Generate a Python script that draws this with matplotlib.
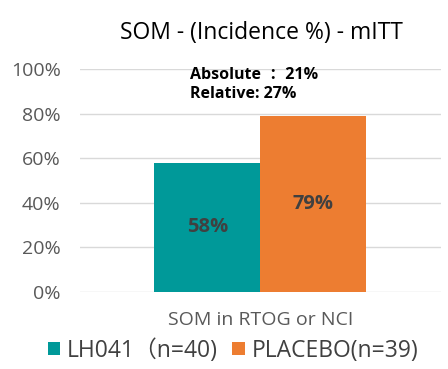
import matplotlib
matplotlib.use('Agg')
import matplotlib.pyplot as plt
import numpy as np

plt.rcParams['font.family'] = ['Open Sans', 'Noto Sans CJK SC', 'DejaVu Sans']

# data
category = ['SOM in RTOG or NCI']
series = ['LH041（n=40)', 'PLACEBO(n=39)']
values = [0.58, 0.79]
colors = ['#009999', '#ED7D31']
yticks = [0, 0.2, 0.4, 0.6, 0.8, 1.0]
ytick_labels = ['0%', '20%', '40%', '60%', '80%', '100%']
title = 'SOM - (Incidence %) - mITT'
note = 'Absolute  ：21%\nRelative: 27%'

fig = plt.figure(figsize=(4.48, 3.69), dpi=100)
ax = fig.add_axes([0.1786, 0.2087, 0.805, 0.6043])

x = np.arange(len(category))
width = 0.2935
for i, (name, v, c) in enumerate(zip(series, values, colors)):
    off = (i - 0.5) * width
    ax.bar(x + off, v, width, color=c, label=name, zorder=2)
    ax.text(x[0] + off, v / 2, f'{round(v * 100)}%', ha='center', va='center',
            fontsize=14.5, fontweight='bold', color='#404040', zorder=3)

ax.set_xlim(-0.5, 0.5)
ax.set_ylim(0, 1.0)
ax.set_yticks(yticks)
ax.set_yticklabels(ytick_labels, fontsize=14, color='#595959')
ax.set_xticks(x)
ax.set_xticklabels(category, fontsize=14, color='#595959')
ax.tick_params(length=0)
ax.tick_params(axis='y', pad=14)
ax.tick_params(axis='x', pad=14)
ax.grid(axis='y', color='#D9D9D9', lw=1, zorder=0)
for s in ax.spines.values():
    s.set_visible(False)

fig.text(0.583, 0.91, title, ha='center', va='center', fontsize=16.5, color='black')
ax.text(-0.195, 1.01, note, ha='left', va='top', fontsize=11.5, fontweight='bold',
        color='black', linespacing=1.25)

fig.legend(loc='center', bbox_to_anchor=(0.52, 0.05), ncol=2, frameon=False,
           fontsize=16.5, handlelength=0.55, handleheight=0.55, handletextpad=0.3,
           columnspacing=0.6, labelcolor='#404040')

fig.savefig('out.png', dpi=100)
